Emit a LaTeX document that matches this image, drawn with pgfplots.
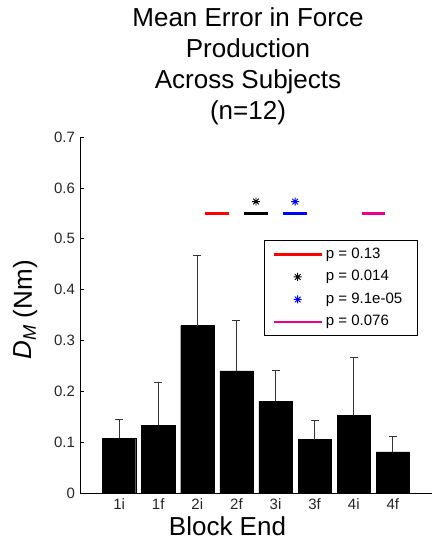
\documentclass[border=0pt]{standalone}
\usepackage{pgfplots}
\pgfplotsset{compat=1.18}
\usepackage{pgfplotstable}
\usepackage{fontspec}
\setmainfont{Liberation Sans}
\usetikzlibrary{plotmarks}

\pgfdeclareplotmark{mstar}{%
 \pgfpathmoveto{\pgfqpoint{-\pgfplotmarksize}{0pt}}\pgfpathlineto{\pgfqpoint{\pgfplotmarksize}{0pt}}%
 \pgfpathmoveto{\pgfqpoint{0pt}{-\pgfplotmarksize}}\pgfpathlineto{\pgfqpoint{0pt}{\pgfplotmarksize}}%
 \pgfpathmoveto{\pgfqpoint{-.707\pgfplotmarksize}{-.707\pgfplotmarksize}}\pgfpathlineto{\pgfqpoint{.707\pgfplotmarksize}{.707\pgfplotmarksize}}%
 \pgfpathmoveto{\pgfqpoint{-.707\pgfplotmarksize}{.707\pgfplotmarksize}}\pgfpathlineto{\pgfqpoint{.707\pgfplotmarksize}{-.707\pgfplotmarksize}}%
 \pgfusepathqstroke}

\pgfplotsset{
  legline/.style={legend image code/.code={\draw[##1] (0pt,0pt) -- (48pt,0pt);}},
  legmark/.style={legend image code/.code={\draw[##1] plot coordinates {(24pt,0pt)};}},
}

\pgfplotstableread{
x y e
1 0.108 0.036
2 0.133 0.085
3 0.329 0.138
4 0.240 0.100
5 0.180 0.060
6 0.105 0.037
7 0.152 0.115
8 0.081 0.030
}\bars

\begin{document}
\begin{tikzpicture}
\useasboundingbox (0pt,0pt) rectangle (432pt,543pt);
\begin{axis}[
  at={(80pt,50pt)}, anchor=south west,
  scale only axis, width=352pt, height=356pt,
  xmin=0, xmax=9, ymin=0, ymax=0.7,
  axis x line*=bottom, axis y line*=left,
  axis line style={-, line width=0.9pt},
  xtick={1,...,8},
  xticklabels={1i,1f,2i,2f,3i,3f,4i,4f},
  major x tick style={draw=none},
  ytick={0,0.1,...,0.7},
  yticklabels={0,0.1,0.2,0.3,0.4,0.5,0.6,0.7},
  tick align=inside, major tick length=3.5pt,
  tick style={line width=0.7pt, black},
  ticklabel style={font=\fontsize{15}{15}\selectfont, text=black!85},
  yticklabel style={xshift=-1.5pt},
  xticklabel style={yshift=-2pt},
  xlabel={Block End},
  xlabel style={at={(axis description cs:0.419,0)}, anchor=base, yshift=-42pt, font=\fontsize{26}{26}\selectfont},
  ylabel={\textit{D}\textsubscript{\textit{M}} (Nm)},
  ylabel style={at={(axis description cs:-0.156,0.514)}, anchor=center, font=\fontsize{26}{26}\selectfont},
  legend style={at={(0.5227,0.7107)}, anchor=north west, draw=black, line width=0.9pt,
    font=\fontsize{15}{15}\selectfont, row sep=8.5pt, column sep=3pt, inner xsep=8pt, inner ysep=7pt,
    nodes={inner sep=0pt, text height=11pt, text depth=3pt}},
  legend cell align=left,
  clip=false,
]
\addplot[ybar, bar width=0.85, fill=black, draw=black, forget plot,
  error bars/.cd, y dir=plus, y explicit,
  error bar style={line width=1.1pt, black!80},
  error mark options={rotate=90, line width=1.1pt, black!80, mark size=4pt}]
  table[x=x, y=y, y error=e] {\bars};

\addplot[red, line width=3pt, forget plot] coordinates {(3.2,0.55) (3.8,0.55)};
\addplot[black, line width=3pt, forget plot] coordinates {(4.2,0.55) (4.8,0.55)};
\addplot[blue, line width=3pt, forget plot] coordinates {(5.2,0.55) (5.8,0.55)};
\addplot[magenta, line width=3pt, forget plot] coordinates {(7.2,0.55) (7.8,0.55)};
\addplot[black, only marks, mark=mstar, mark size=4pt, line width=0.9pt, forget plot] coordinates {(4.5,0.573)};
\addplot[blue, only marks, mark=mstar, mark size=4pt, line width=0.9pt, forget plot] coordinates {(5.5,0.573)};

\addlegendimage{red, line width=2.5pt, legline}
\addlegendentry{\makebox[84pt][l]{p = 0.13}}
\addlegendimage{black, only marks, mark=mstar, mark size=4pt, line width=0.9pt, legmark}
\addlegendentry{\makebox[84pt][l]{p = 0.014}}
\addlegendimage{blue, only marks, mark=mstar, mark size=4pt, line width=0.9pt, legmark}
\addlegendentry{\makebox[84pt][l]{p = 9.1e-05}}
\addlegendimage{magenta, line width=2.5pt, legline}
\addlegendentry{\makebox[84pt][l]{p = 0.076}}
\end{axis}
\node[align=center, font=\fontsize{26}{31}\selectfont] at (248pt,476.5pt) {Mean Error in Force\\Production\\Across Subjects\\(n=12)};
\end{tikzpicture}
\end{document}
